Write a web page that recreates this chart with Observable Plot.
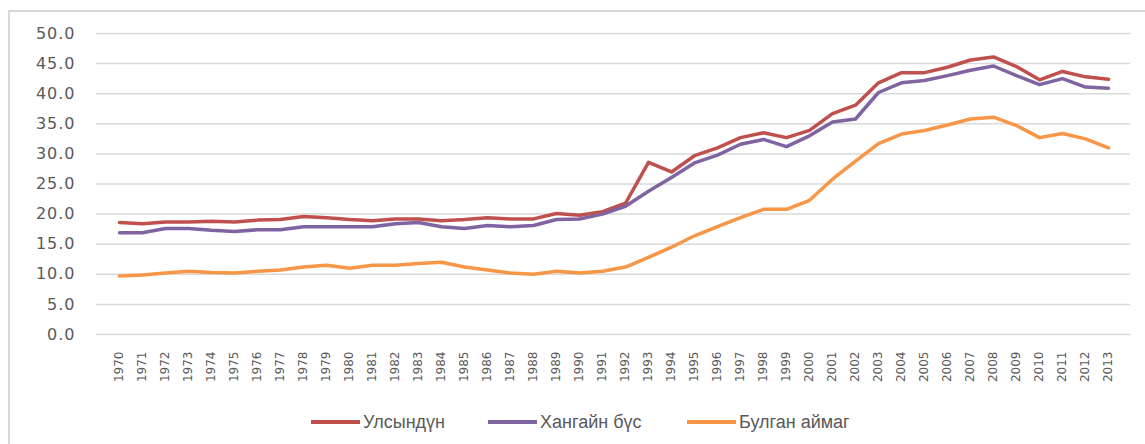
<!DOCTYPE html>
<html>
<head>
<meta charset="utf-8">
<script src="https://cdn.jsdelivr.net/npm/d3@7"></script>
<script src="https://cdn.jsdelivr.net/npm/@observablehq/plot@0.6"></script>
<style>
  html, body { margin:0; padding:0; background:#fff; overflow:hidden; }
  #wrap { position:relative; width:1145px; height:444px; overflow:hidden; }
  #frame { position:absolute; left:8px; top:10px; width:1300px; height:600px; border:2px solid #d9d9d9; box-sizing:border-box; }
  #chart { position:absolute; left:0; top:0; }
  #legend { position:absolute; top:410px; left:0; width:1145px; height:24px; font-family:"Liberation Sans Narrow","Liberation Sans",sans-serif; font-size:18px; color:#595959; }
  .item { position:absolute; top:0; display:flex; align-items:center; height:24px; }
  .swatch { display:inline-block; width:49px; height:3.5px; margin-right:3px; }
</style>
</head>
<body>
<div id="wrap">
  <div id="frame"></div>
  <div id="chart"></div>
  <div id="legend"></div>
</div>
<script>
const years = [1970,1971,1972,1973,1974,1975,1976,1977,1978,1979,1980,1981,1982,1983,1984,1985,1986,1987,1988,1989,1990,1991,1992,1993,1994,1995,1996,1997,1998,1999,2000,2001,2002,2003,2004,2005,2006,2007,2008,2009,2010,2011,2012,2013];
const seriesNames = ["Улсындүн", "Хангайн бүс", "Булган аймаг"];
const seriesColors = ["#C0504D", "#8064A2", "#F79646"];
const ulsyn = [18.6,18.4,18.7,18.7,18.8,18.7,19.0,19.1,19.6,19.4,19.1,18.9,19.2,19.2,18.9,19.1,19.4,19.2,19.2,20.1,19.8,20.4,21.8,28.6,27.0,29.7,31.0,32.7,33.5,32.7,33.9,36.7,38.1,41.8,43.5,43.5,44.4,45.6,46.1,44.5,42.3,43.7,42.8,42.4];
const khangai = [16.9,16.9,17.6,17.6,17.3,17.1,17.4,17.4,17.9,17.9,17.9,17.9,18.4,18.6,17.9,17.6,18.1,17.9,18.1,19.1,19.2,20.0,21.3,23.8,26.1,28.5,29.8,31.6,32.4,31.2,33.0,35.3,35.8,40.2,41.8,42.2,43.0,43.9,44.6,43.0,41.5,42.5,41.1,40.9];
const bulgan = [9.7,9.9,10.2,10.5,10.3,10.2,10.5,10.7,11.2,11.5,11.0,11.5,11.5,11.8,12.0,11.2,10.7,10.2,10.0,10.5,10.2,10.5,11.2,12.8,14.5,16.4,17.9,19.4,20.8,20.8,22.3,25.8,28.8,31.7,33.3,33.9,34.8,35.8,36.1,34.7,32.7,33.4,32.5,31.0];
const yTicks = [0,5,10,15,20,25,30,35,40,45,50];

const seriesValues = [ulsyn, khangai, bulgan];
const data = [];
seriesNames.forEach((name, i) => {
  years.forEach((yr, j) => data.push({series: name, year: yr, value: seriesValues[i][j]}));
});

const chart = Plot.plot({
  width: 1145,
  height: 444,
  marginLeft: 96,
  marginRight: 15,
  marginTop: 33,
  marginBottom: 110,
  style: {fontFamily: "DejaVu Sans", color: "#595959", background: "transparent", overflow: "visible"},
  x: {type: "point", domain: years, padding: 0.5},
  y: {domain: [0, 50]},
  color: {domain: seriesNames, range: seriesColors},
  marks: [
    Plot.ruleY(yTicks, {stroke: "#d9d9d9", strokeWidth: 1.5}),
    Plot.axisY(yTicks, {tickSize: 0, tickPadding: 21, tickFormat: d => d.toFixed(1), fontSize: 16, fill: "#595959", label: null}),
    Plot.axisX(years, {tickSize: 0, tickPadding: 17, tickRotate: -90, fontSize: 12, fill: "#595959", label: null, tickFormat: d => String(d)}),
    Plot.line(data, {x: "year", y: "value", z: "series", stroke: "series", strokeWidth: 3.5, strokeLinejoin: "round", strokeLinecap: "round"})
  ]
});
document.getElementById("chart").appendChild(chart);
chart.querySelectorAll("g[aria-label='y-axis tick label'] text").forEach(t => t.style.letterSpacing = "1px");

const legendPos = [311, 488, 687];
const legend = document.getElementById("legend");
seriesNames.forEach((name, i) => {
  const item = document.createElement("div");
  item.className = "item";
  item.style.left = legendPos[i] + "px";
  const sw = document.createElement("span");
  sw.className = "swatch";
  sw.style.background = seriesColors[i];
  const tx = document.createElement("span");
  tx.textContent = name;
  item.appendChild(sw);
  item.appendChild(tx);
  legend.appendChild(item);
});
</script>
</body>
</html>
